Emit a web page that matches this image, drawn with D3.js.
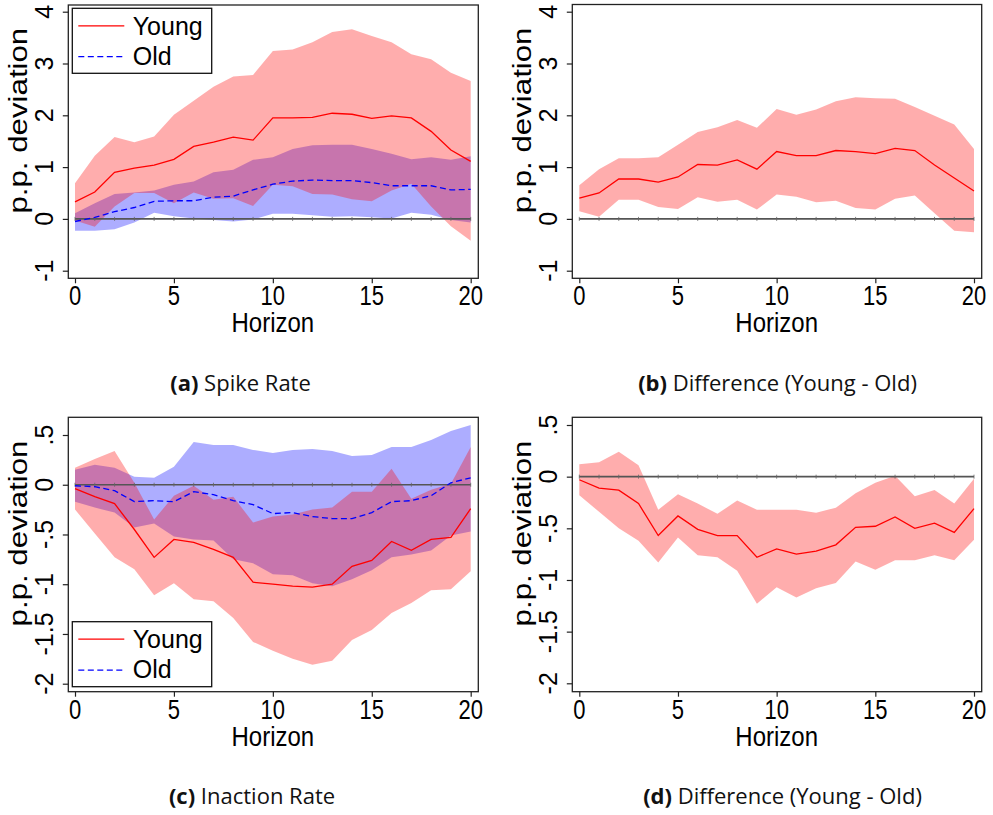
<!DOCTYPE html>
<html><head><meta charset="utf-8">
<script src="https://cdn.jsdelivr.net/npm/d3@7"></script>
<style>body{margin:0;background:#fff}svg{display:block}</style>
</head><body>
<script>
// ---------- DATA ----------
const horizon = [0,1,2,3,4,5,6,7,8,9,10,11,12,13,14,15,16,17,18,19,20];
const xTicks = [0,5,10,15,20];
const xTickLabels = ["0","5","10","15","20"];
const yTicksTop = [-1,0,1,2,3,4];
const yTickLabelsTop = ["-1","0","1","2","3","4"];
const yTicksBottom = [0.5,0,-0.5,-1,-1.5,-2];
const yTickLabelsBottom = [".5","0","-.5","-1","-1.5","-2"];
const legendLabels = ["Young","Old"];
const captions = [["(a)"," Spike Rate"],["(b)"," Difference (Young - Old)"],["(c)"," Inaction Rate"],["(d)"," Difference (Young - Old)"]];

// (a) Spike rate
const spikeYoung   = [0.33,0.52,0.90,0.98,1.04,1.15,1.40,1.48,1.58,1.52,1.95,1.95,1.96,2.04,2.02,1.94,1.99,1.95,1.69,1.33,1.11];
const spikeYoungHi = [0.69,1.22,1.58,1.48,1.59,2.01,2.28,2.55,2.75,2.78,3.24,3.27,3.41,3.61,3.66,3.53,3.41,3.18,3.08,2.82,2.66];
const spikeYoungLo = [-0.03,-0.15,0.24,0.50,0.50,0.30,0.51,0.39,0.40,0.25,0.66,0.63,0.48,0.47,0.38,0.34,0.55,0.68,0.24,-0.14,-0.42];
const spikeOld     = [-0.05,0.03,0.14,0.22,0.34,0.35,0.35,0.42,0.44,0.56,0.67,0.73,0.75,0.74,0.74,0.70,0.64,0.64,0.64,0.56,0.57];
const spikeOldHi   = [0.11,0.30,0.48,0.51,0.55,0.66,0.72,0.90,0.95,1.14,1.19,1.35,1.42,1.43,1.43,1.35,1.26,1.15,1.19,1.14,1.21];
const spikeOldLo   = [-0.23,-0.23,-0.20,-0.07,0.12,0.05,0.01,-0.02,-0.05,-0.01,0.10,0.10,0.07,0.04,0.05,0.03,0.01,0.12,0.08,-0.02,-0.07];
// (b) Spike rate difference
const spikeDiff    = [0.40,0.50,0.77,0.77,0.71,0.81,1.05,1.04,1.14,0.96,1.30,1.22,1.22,1.32,1.30,1.26,1.36,1.32,1.04,0.79,0.54];
const spikeDiffHi  = [0.65,0.96,1.17,1.17,1.19,1.43,1.68,1.77,1.91,1.76,2.12,2.01,2.11,2.27,2.35,2.33,2.32,2.16,1.99,1.82,1.35];
const spikeDiffLo  = [0.15,0.04,0.37,0.37,0.23,0.19,0.42,0.33,0.37,0.18,0.47,0.43,0.32,0.35,0.21,0.18,0.39,0.45,0.11,-0.23,-0.26];
// (c) Inaction rate
const inactYoung   = [-0.04,-0.12,-0.19,-0.45,-0.73,-0.55,-0.58,-0.65,-0.73,-0.98,-1.00,-1.02,-1.03,-1.00,-0.82,-0.76,-0.57,-0.66,-0.55,-0.53,-0.24];
const inactYoungHi = [0.17,0.26,0.34,0.02,-0.35,-0.11,-0.01,-0.15,-0.12,-0.38,-0.32,-0.30,-0.25,-0.23,-0.07,-0.07,0.16,-0.14,-0.05,0.01,0.38];
const inactYoungLo = [-0.25,-0.49,-0.73,-0.85,-1.11,-0.99,-1.15,-1.17,-1.34,-1.58,-1.67,-1.75,-1.81,-1.77,-1.56,-1.46,-1.29,-1.19,-1.06,-1.05,-0.87];
const inactOld     = [-0.01,-0.02,-0.06,-0.17,-0.16,-0.17,-0.07,-0.10,-0.16,-0.20,-0.29,-0.28,-0.32,-0.34,-0.34,-0.28,-0.17,-0.16,-0.11,0.02,0.07];
const inactOldHi   = [0.15,0.20,0.17,0.08,0.07,0.18,0.43,0.40,0.40,0.35,0.32,0.35,0.36,0.34,0.29,0.30,0.38,0.38,0.45,0.54,0.60];
const inactOldLo   = [-0.17,-0.23,-0.28,-0.43,-0.39,-0.52,-0.55,-0.56,-0.75,-0.79,-0.90,-0.91,-0.99,-1.02,-0.95,-0.86,-0.73,-0.70,-0.66,-0.51,-0.47];
// (d) Inaction rate difference
const inactDiff    = [-0.03,-0.11,-0.13,-0.26,-0.57,-0.38,-0.51,-0.57,-0.57,-0.78,-0.70,-0.75,-0.72,-0.66,-0.49,-0.48,-0.39,-0.50,-0.45,-0.54,-0.31];
const inactDiffHi  = [0.12,0.14,0.24,0.11,-0.32,-0.17,-0.26,-0.36,-0.23,-0.32,-0.32,-0.32,-0.35,-0.30,-0.16,-0.06,0.01,-0.19,-0.13,-0.26,-0.02];
const inactDiffLo  = [-0.18,-0.34,-0.50,-0.62,-0.83,-0.59,-0.76,-0.78,-0.91,-1.23,-1.07,-1.17,-1.08,-1.03,-0.82,-0.90,-0.81,-0.81,-0.76,-0.81,-0.61];

// ---------- LAYOUT ----------
const svg = d3.select("body").append("svg").attr("width",993).attr("height",815);
const RED = "#ff0000", BLUE = "#0000ff";
const BAND_OP = 0.32;
const TICKFONT = "'Liberation Sans', Arial, sans-serif";
const CAPFONT = "'Open Sans', 'Noto Sans', sans-serif";

function txt(g, x, y, s, o) {
  const t = g.append("text")
    .attr("transform", `translate(${x},${y}) scale(1,${o.sy||1})` + (o.rot ? " rotate(-90)" : ""))
    .attr("font-family", o.family || TICKFONT)
    .attr("font-size", o.size)
    .attr("text-anchor", o.anchor || "middle")
    .attr("fill", "#000");
  return t.text(s);
}

const panels = [
  {L:68.3, T:5,     R:478.3, B:278.3, x0:75,    x20:470.7, yDom:[-1,4],   yRng:[270.7,11.7],
   ticks:yTicksTop, tickLabels:yTickLabelsTop,
   bands:[{lo:spikeOldLo,hi:spikeOldHi,c:BLUE},{lo:spikeYoungLo,hi:spikeYoungHi,c:RED}],
   lines:[{v:spikeOld,c:BLUE,dash:true},{v:spikeYoung,c:RED}], legendTop:8.3},
  {L:572.3, T:4.5,  R:981.7, B:278.3, x0:579.3, x20:974,   yDom:[-1,4],   yRng:[270.7,11.7],
   ticks:yTicksTop, tickLabels:yTickLabelsTop,
   bands:[{lo:spikeDiffLo,hi:spikeDiffHi,c:RED}],
   lines:[{v:spikeDiff,c:RED}]},
  {L:68.3, T:417.3, R:478.3, B:691.7, x0:75,    x20:470.7, yDom:[-2,0.5], yRng:[683.7,435],
   ticks:yTicksBottom, tickLabels:yTickLabelsBottom,
   bands:[{lo:inactOldLo,hi:inactOldHi,c:BLUE},{lo:inactYoungLo,hi:inactYoungHi,c:RED}],
   lines:[{v:inactOld,c:BLUE,dash:true},{v:inactYoung,c:RED}], legendTop:621.7},
  {L:572.3, T:417.3, R:981.7, B:691.7, x0:579.3, x20:974,  yDom:[-2,0.5], yRng:[683.3,425],
   ticks:yTicksBottom, tickLabels:yTickLabelsBottom,
   bands:[{lo:inactDiffLo,hi:inactDiffHi,c:RED}],
   lines:[{v:inactDiff,c:RED}]}
];

const capX = [240.5, 777.5, 252, 782.5];

panels.forEach((p, pi) => {
  const g = svg.append("g");
  const x = d3.scaleLinear().domain([0,20]).range([p.x0, p.x20]);
  const y = d3.scaleLinear().domain(p.yDom).range(p.yRng);

  // bands
  p.bands.forEach(b => {
    const area = d3.area().x((d,i)=>x(horizon[i])).y0((d,i)=>y(b.lo[i])).y1((d,i)=>y(b.hi[i]));
    g.append("path").datum(horizon).attr("d", area)
      .attr("fill", b.c).attr("fill-opacity", BAND_OP).attr("stroke","none");
  });

  // zero line
  g.append("line").attr("x1", x(0)).attr("x2", x(20)).attr("y1", y(0)).attr("y2", y(0))
    .attr("stroke", "#555").attr("stroke-width", 1.6);
  g.selectAll(".zt").data(horizon).enter().append("line")
    .attr("x1", d=>x(d)).attr("x2", d=>x(d)).attr("y1", y(0)-2).attr("y2", y(0)+2)
    .attr("stroke", "#666").attr("stroke-width", 0.8);

  // lines
  p.lines.forEach(l => {
    const line = d3.line().x((d,i)=>x(horizon[i])).y((d,i)=>y(l.v[i]));
    g.append("path").datum(horizon).attr("d", line).attr("fill","none")
      .attr("stroke", l.c).attr("stroke-width", 1.3)
      .attr("stroke-dasharray", l.dash ? "6,3.5" : null);
  });

  // frame
  g.append("rect").attr("x", p.L).attr("y", p.T).attr("width", p.R-p.L).attr("height", p.B-p.T)
    .attr("fill","none").attr("stroke","#222").attr("stroke-width",1.3);

  // x axis
  const xa = g.append("g").attr("transform", `translate(0,${p.B})`)
    .call(d3.axisBottom(x).tickValues(xTicks).tickSize(5).tickFormat(""));
  xa.select(".domain").remove();
  xa.selectAll("line").attr("stroke","#222").attr("stroke-width",1.2);
  xTicks.forEach((t,i) => txt(g, x(t), p.B+27, xTickLabels[i], {size:22, sy:1.25}));
  txt(g, (p.x0+p.x20)/2, p.B+54, "Horizon", {size:24, sy:1.15});

  // y axis
  const ya = g.append("g").attr("transform", `translate(${p.L},0)`)
    .call(d3.axisLeft(y).tickValues(p.ticks).tickSize(5.5).tickFormat(""));
  ya.select(".domain").remove();
  ya.selectAll("line").attr("stroke","#222").attr("stroke-width",1.2);
  p.ticks.forEach((t,i) => txt(g, p.L-15.3, y(t), p.tickLabels[i], {size:25, rot:true}));
  txt(g, p.L-41, (p.T+p.B)/2 - 21, "p.p. deviation", {size:25, rot:true, sy:1.25});

  // legend
  if (p.legendTop !== undefined) {
    const t0 = p.legendTop;
    g.append("rect").attr("x",72.3).attr("y",t0).attr("width",139.4).attr("height",65)
      .attr("fill","#fff").attr("stroke","#111").attr("stroke-width",1.3);
    g.append("line").attr("x1",78.3).attr("x2",124.3).attr("y1",t0+17.5).attr("y2",t0+17.5)
      .attr("stroke",RED).attr("stroke-width",1.3);
    g.append("line").attr("x1",78.3).attr("x2",124.3).attr("y1",t0+48.4).attr("y2",t0+48.4)
      .attr("stroke",BLUE).attr("stroke-width",1.3).attr("stroke-dasharray","6,3.5");
    txt(g, 132.7, t0+26.7, legendLabels[0], {size:25, anchor:"start"});
    txt(g, 132.7, t0+56.7, legendLabels[1], {size:25, anchor:"start"});
  }

  // caption
  const cap = g.append("text").attr("x", capX[pi]).attr("y", p.B+112.5)
    .attr("text-anchor","middle").attr("font-family", CAPFONT).attr("font-size", 22).attr("fill","#111");
  cap.append("tspan").attr("font-weight","bold").text(captions[pi][0]);
  cap.append("tspan").text(captions[pi][1]);
});
</script>
</body></html>
